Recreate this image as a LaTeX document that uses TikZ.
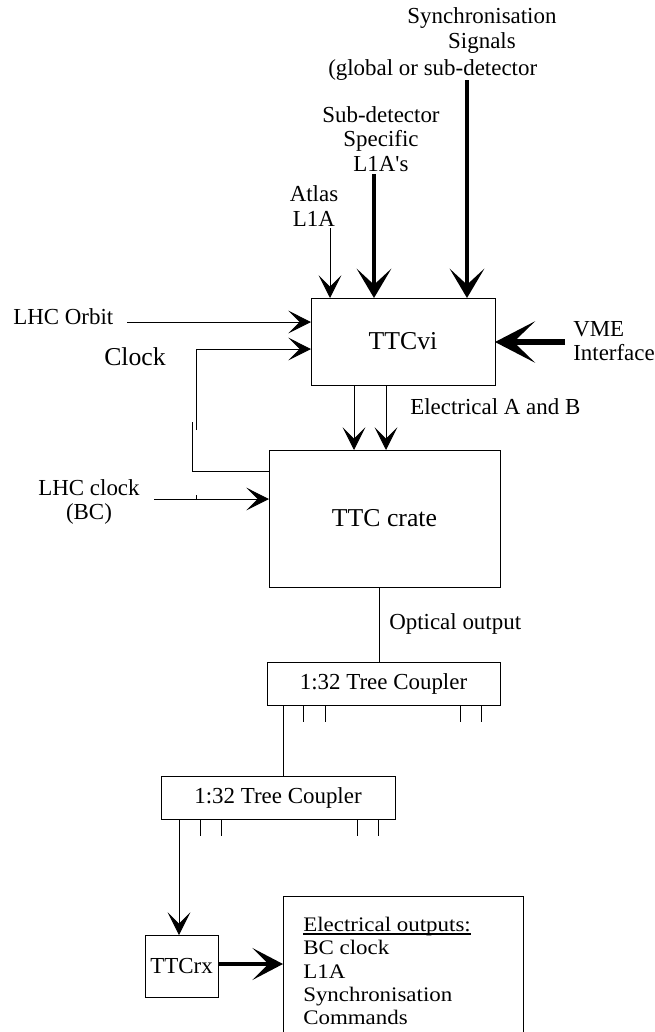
\documentclass[tikz,border=0pt]{standalone}
\usepackage{fontspec}
\setmainfont{Liberation Serif}
\usetikzlibrary{arrows.meta}
\newcommand\myul[1]{\setbox0\hbox{#1}\rlap{\rule[-2.2pt]{\wd0}{0.8pt}}\box0}
\begin{document}
\begin{tikzpicture}[x=0.75pt,y=-0.75pt,
  nf/.style={font=\fontsize{17.2}{18.4}\selectfont},
  bf/.style={font=\fontsize{19.3}{22}\selectfont},
  box/.style={draw,line width=0.75pt,inner sep=0pt,outer sep=0pt},
  thinline/.style={line width=0.75pt},
  tarrow/.style={line width=0.75pt,-{Stealth[length=17pt,width=17pt,inset=8.5pt]}},
  karrow/.style={line width=3pt,-{Stealth[length=22pt,width=26pt,inset=12pt]}},
  sarrow/.style={line width=3pt,-{Stealth[length=23pt,width=24pt,inset=12pt]}},
  varrow/.style={line width=4.5pt,-{Stealth[length=30pt,width=31pt,inset=16pt]}},
  txt/.style={inner sep=0pt,nf}]
\useasboundingbox (0,0) rectangle (654,1032);

% boxes
\node[box,bf,minimum width=138pt,minimum height=65.25pt] (ttcvi) at (403,341.5) {TTCvi};
\node[box,bf,minimum width=173.25pt,minimum height=102.75pt] (crate) at (384.5,518.5) {TTC crate};
\node[box,nf,minimum width=174.75pt,minimum height=32.25pt] (coupA) at (383.5,683.5) {1:32 Tree Coupler};
\node[box,nf,minimum width=175.5pt,minimum height=32.25pt] (coupB) at (278,797.5) {1:32 Tree Coupler};
\node[box,nf,minimum width=54.75pt,minimum height=46.5pt] (ttcrx) at (181.5,966) {TTCrx};
\draw[thinline] (283,1032) |- (523,896) -- (523,1032);
\coordinate (outL) at (283,964);
\node[inner sep=0pt,anchor=north west,align=left,font=\fontsize{15.5}{17.5}\selectfont\addfontfeature{FakeStretch=1.11}] (outtxt) at (303,917)
  {\myul{Electrical outputs:}\\BC clock\\L1A\\Synchronisation\\Commands};

% labels
\node[txt,align=center] (sync) at (482,30.5) {Synchronisation\\Signals};
\node[txt,anchor=west] (syncb) at (328,70) {(global or sub-detector};
\node[txt,align=center] (subdet) at (381,139) {Sub-detector\\Specific\\L1A\textquotesingle s};
\node[txt,align=center] (atlas) at (314,206) {Atlas\\L1A};
\node[txt,anchor=west] (orbit) at (13,317) {LHC Orbit};
\node[inner sep=0pt,bf] (clock) at (135,357) {Clock};
\node[txt,anchor=west,align=left] (vme) at (573,341) {VME\\Interface};
\node[txt,anchor=west] (elab) at (410,407) {Electrical A and B};
\node[txt,align=center] (lhcclk) at (89,502) {LHC clock\\(BC)};
\node[txt,anchor=west] (optlab) at (389,624) {Optical output};

% connectors into TTCvi
\coordinate (atlasS) at (330,228);
\draw[tarrow] (atlasS) -- (atlasS |- ttcvi.north);
\coordinate (subS) at (374,174);
\draw[karrow] (subS) -- (subS |- ttcvi.north);
\coordinate (syncS) at (467,80);
\draw[karrow] (syncS) -- (syncS |- ttcvi.north);
\coordinate (orbitS) at (127,322);
\draw[tarrow] (orbitS) -- (orbitS -| ttcvi.west);
\coordinate (clkA) at (196,430);
\coordinate (clkY) at (0,349);
\draw[tarrow] (clkA) |- (ttcvi.west |- clkY);
\coordinate (vmeS) at (565,342);
\draw[varrow] (vmeS) -- (vmeS -| ttcvi.east);

% clock to crate
\coordinate (clkB) at (192,422);
\coordinate (clkZ) at (0,471);
\draw[thinline] (clkB) |- (crate.west |- clkZ);
\coordinate (lhcS) at (154,499);
\draw[tarrow] (lhcS) -- (lhcS -| crate.west);
\coordinate (tickA) at (196,495);
\draw[thinline] (tickA) -- ++(0,4);

% TTCvi to crate
\coordinate (xA) at (354,0);
\coordinate (xB) at (386,0);
\draw[tarrow] (ttcvi.south -| xA) -- (crate.north -| xA);
\draw[tarrow] (ttcvi.south -| xB) -- (crate.north -| xB);

% optical
\coordinate (xO) at (379,0);
\draw[thinline] (crate.south -| xO) -- (coupA.north -| xO);
\foreach \x in {303,325,460,481} {
  \coordinate (tk) at (\x,0);
  \draw[thinline] (coupA.south -| tk) -- ++(0,17);
}
\coordinate (xC) at (283,0);
\draw[thinline] (coupA.south -| xC) -- (coupB.north -| xC);
\foreach \x in {200,221,357,378} {
  \coordinate (tk) at (\x,0);
  \draw[thinline] (coupB.south -| tk) -- ++(0,17);
}
\coordinate (xD) at (179,0);
\draw[tarrow] (coupB.south -| xD) -- (ttcrx.north -| xD);
\draw[sarrow] (ttcrx.east |- outL) -- (outL);
\end{tikzpicture}
\end{document}
